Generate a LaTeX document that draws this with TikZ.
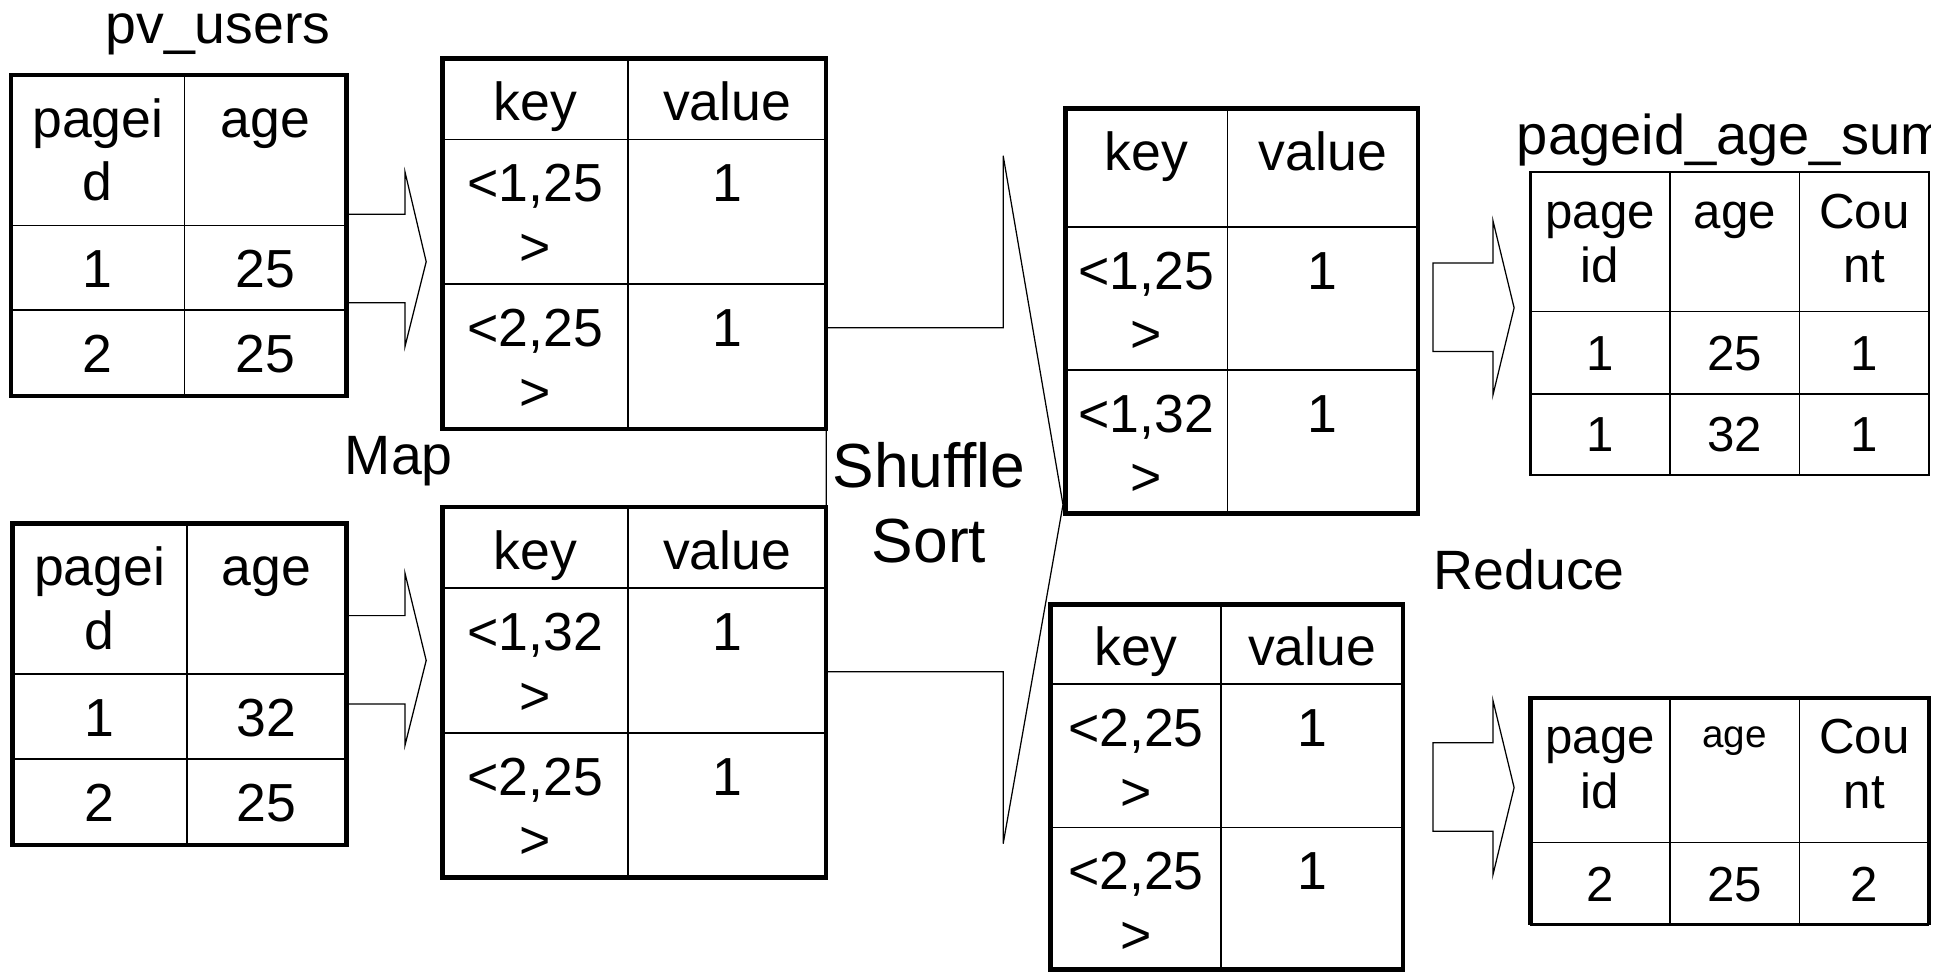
\documentclass[tikz,border=0pt]{standalone}
\usepackage{fontspec}
\setmainfont{Liberation Sans}
\begin{document}
\begin{tikzpicture}[x=1pt,y=-1pt,
  frame/.style={line width=3.5pt},
  rule/.style={line width=1.4pt},
  thinframe/.style={line width=2pt},
  blockarrow/.style={line width=1pt, line join=miter},
  % multi-line nodes: the base anchor sits on the last line
  cell/.style={anchor=base, inner sep=0pt, align=center, font=\fontsize{43}{51}\selectfont},
  rcell/.style={anchor=base, inner sep=0pt, align=center, font=\fontsize{39.5}{44}\selectfont},
  title/.style={anchor=base, inner sep=0pt, align=center, font=\fontsize{44.5}{53}\selectfont},
]
\useasboundingbox (0,0) rectangle (1568,780);

% ---------- block arrows (drawn first, tables on top) ----------
\draw[blockarrow] (278,172) -- (325,172) -- (325,138) -- (342,210) -- (325,278) -- (325,243) -- (278,243) -- cycle;
\draw[blockarrow] (278,494) -- (325,494) -- (325,460) -- (342,530) -- (325,598) -- (325,565) -- (278,565) -- cycle;
\draw[blockarrow] (663,263) -- (805,263) -- (805,125) -- (853,405) -- (805,677) -- (805,539) -- (663,539) -- cycle;
\draw[blockarrow] (1150,211) -- (1198,211) -- (1198,177) -- (1215,247) -- (1198,317) -- (1198,282) -- (1150,282) -- cycle;
\draw[blockarrow] (1150,596) -- (1198,596) -- (1198,562) -- (1215,632) -- (1198,702) -- (1198,667) -- (1150,667) -- cycle;

% ---------- pv_users, first split ----------
\node[title] (pvusers) at (175,35) {pv\_users};
\draw[rule] (148,60) -- (148,318) (9,181) -- (278,181) (9,249) -- (278,249);
\draw[frame] (9,60) rectangle (278,318);
\node[cell] (a11) at (78.5,161) {pagei\\d};
\node[cell] (a12) at (213,110) {age};
\node[cell] (a21) at (78.5,231) {1};
\node[cell] (a22) at (213,231) {25};
\node[cell] (a31) at (78.5,299) {2};
\node[cell] (a32) at (213,299) {25};

% ---------- pv_users, second split ----------
\draw[rule] (150,420) -- (150,678) (10,541) -- (278,541) (10,609) -- (278,609);
\draw[frame] (10,420) rectangle (278,678);
\node[cell] (c11) at (80,521) {pagei\\d};
\node[cell] (c12) at (214,470) {age};
\node[cell] (c21) at (80,591) {1};
\node[cell] (c22) at (214,591) {32};
\node[cell] (c31) at (80,659) {2};
\node[cell] (c32) at (214,659) {25};

% ---------- map output ----------
\node[title] (map) at (320,381) {Map};
\draw[rule] (504,47) -- (504,344) (355,112) -- (663,112) (355,228) -- (663,228);
\draw[frame] (355,47) rectangle (663,344);
\node[cell] (b11) at (429.5,97) {key};
\node[cell] (b12) at (583.5,97) {value};
\node[cell] (b21) at (429.5,213) {<1,25\\>};
\node[cell] (b22) at (583.5,162) {1};
\node[cell] (b31) at (429.5,329) {<2,25\\>};
\node[cell] (b32) at (583.5,278) {1};

\draw[rule] (504,407) -- (504,704) (355,472) -- (663,472) (355,588) -- (663,588);
\draw[frame] (355,407) rectangle (663,704);
\node[cell] (d11) at (429.5,457) {key};
\node[cell] (d12) at (583.5,457) {value};
\node[cell] (d21) at (429.5,573) {<1,32\\>};
\node[cell] (d22) at (583.5,522) {1};
\node[cell] (d31) at (429.5,689) {<2,25\\>};
\node[cell] (d32) at (583.5,638) {1};

% ---------- shuffle / sort ----------
\node[title, font=\fontsize{50}{60}\selectfont] (shuffle) at (745.5,451) {Shuffle\\Sort};

\draw[rule] (985,87) -- (985,412) (855,182) -- (1138,182) (855,297) -- (1138,297);
\draw[frame] (855,87) rectangle (1138,412);
\node[cell] (e11) at (920,137) {key};
\node[cell] (e12) at (1061.5,137) {value};
\node[cell] (e21) at (920,283) {<1,25\\>};
\node[cell] (e22) at (1061.5,232) {1};
\node[cell] (e31) at (920,398) {<1,32\\>};
\node[cell] (e32) at (1061.5,347) {1};

\draw[rule] (980,485) -- (980,778) (843,549) -- (1126,549) (843,664) -- (1126,664);
\draw[frame] (843,485) rectangle (1126,778);
\node[cell] (g11) at (911.5,534) {key};
\node[cell] (g12) at (1053,534) {value};
\node[cell] (g21) at (911.5,650) {<2,25\\>};
\node[cell] (g22) at (1053,599) {1};
\node[cell] (g31) at (911.5,765) {<2,25\\>};
\node[cell] (g32) at (1053,714) {1};

% ---------- reduce output ----------
\node[title] (reduce) at (1227,473) {Reduce};
\begin{scope}
  \clip (1200,80) rectangle (1549,140);
  \node[title, anchor=base west, font=\fontsize{45}{53}\selectfont] (sumtitle) at (1217,124) {pageid\_age\_sum};
\end{scope}

\draw[rule] (1340,138) -- (1340,381) (1444,138) -- (1444,381) (1228,250) -- (1548,250) (1228,316) -- (1548,316);
\draw[thinframe] (1228,138) rectangle (1548,381);
\node[rcell] (f11) at (1284,227) {page\\id};
\node[rcell] (f12) at (1392,183) {age};
\node[rcell] (f13) at (1496,227) {Cou\\nt};
\node[rcell] (f21) at (1284,297) {1};
\node[rcell] (f22) at (1392,297) {25};
\node[rcell] (f23) at (1496,297) {1};
\node[rcell] (f31) at (1284,362) {1};
\node[rcell] (f32) at (1392,362) {32};
\node[rcell] (f33) at (1496,362) {1};

\draw[rule] (1340,560) -- (1340,742) (1444,560) -- (1444,742) (1228,676) -- (1548,676);
\draw[thinframe] (1228,742) -- (1548,742);
\draw[frame] (1228,742) -- (1228,560) -- (1548,560) -- (1548,742);
\node[rcell] (h11) at (1284,649) {page\\id};
\node[rcell, font=\fontsize{31}{36}\selectfont] (h12) at (1392,600) {age};
\node[rcell] (h13) at (1496,649) {Cou\\nt};
\node[rcell] (h21) at (1284,723) {2};
\node[rcell] (h22) at (1392,723) {25};
\node[rcell] (h23) at (1496,723) {2};
\end{tikzpicture}
\end{document}
